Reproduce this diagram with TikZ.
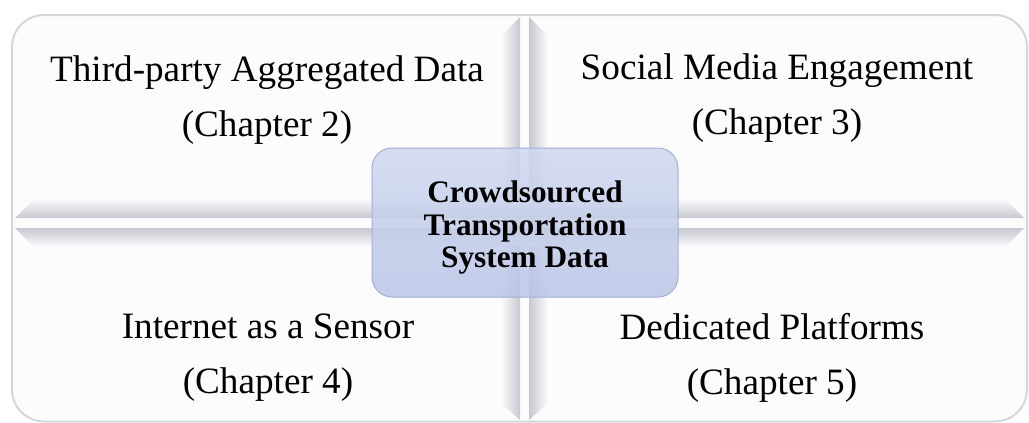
\documentclass[tikz,border=0pt]{standalone}
\usepackage{fontspec}
\setmainfont{Liberation Serif}
\usetikzlibrary{positioning}
\definecolor{framegray}{HTML}{D3D6DB}
\definecolor{panelwhite}{HTML}{FCFCFD}
\definecolor{bevelgray}{HTML}{C8C8D1}
\definecolor{bevellight}{HTML}{F8F8FB}
\definecolor{hubtop}{HTML}{D0D8F0}
\definecolor{hubbottom}{HTML}{B9C5E6}
\definecolor{hubline}{HTML}{A3AFD3}
\tikzset{
  outerframe/.style={
    draw=framegray, line width=2pt, fill=panelwhite, rounded corners=32pt
  },
  quadtext/.style={
    align=center, inner sep=0pt, font=\fontsize{37.2}{55}\selectfont
  },
  hubbox/.style={
    rectangle, rounded corners=20pt, minimum width=306pt, minimum height=149pt,
    align=center, draw=hubline, line width=1pt, top color=hubtop, bottom color=hubbottom,
    fill opacity=0.85, text opacity=1, font=\fontsize{31.3}{32.5}\selectfont\bfseries
  }
}
\begin{document}
\begin{tikzpicture}[x=1pt, y=-1pt]
\useasboundingbox (0,0) rectangle (1029,423);
\draw[outerframe] (12,15) rectangle (1027,421.5);
% bevelled gutters
\shade[left color=bevellight, right color=bevelgray] (520,17) -- (502,35) -- (502,404) -- (520,420) -- cycle;
\shade[left color=bevelgray, right color=bevellight] (529,17) -- (547,35) -- (547,404) -- (529,420) -- cycle;
\shade[top color=bevellight, bottom color=bevelgray] (15,218) -- (33,200) -- (1006,200) -- (1024,218) -- cycle;
\shade[top color=bevelgray, bottom color=bevellight] (15,228) -- (1024,228) -- (1006,246) -- (33,246) -- cycle;
% quadrants
\node[quadtext] (thirdparty) at (267,100) {Third-party Aggregated Data\\(Chapter 2)};
\node[quadtext] (social) at (777,98) {Social Media Engagement\\(Chapter 3)};
\node[quadtext] (internet) at (268,358) {Internet as a Sensor\\(Chapter 4)};
\node[quadtext] (dedicated) at (772,358) {Dedicated Platforms\\(Chapter 5)};
\node[hubbox] (hub) at (525,222.5) {\rule{0pt}{32pt}Crowdsourced\\Transportation\\System Data};
\end{tikzpicture}
\end{document}
